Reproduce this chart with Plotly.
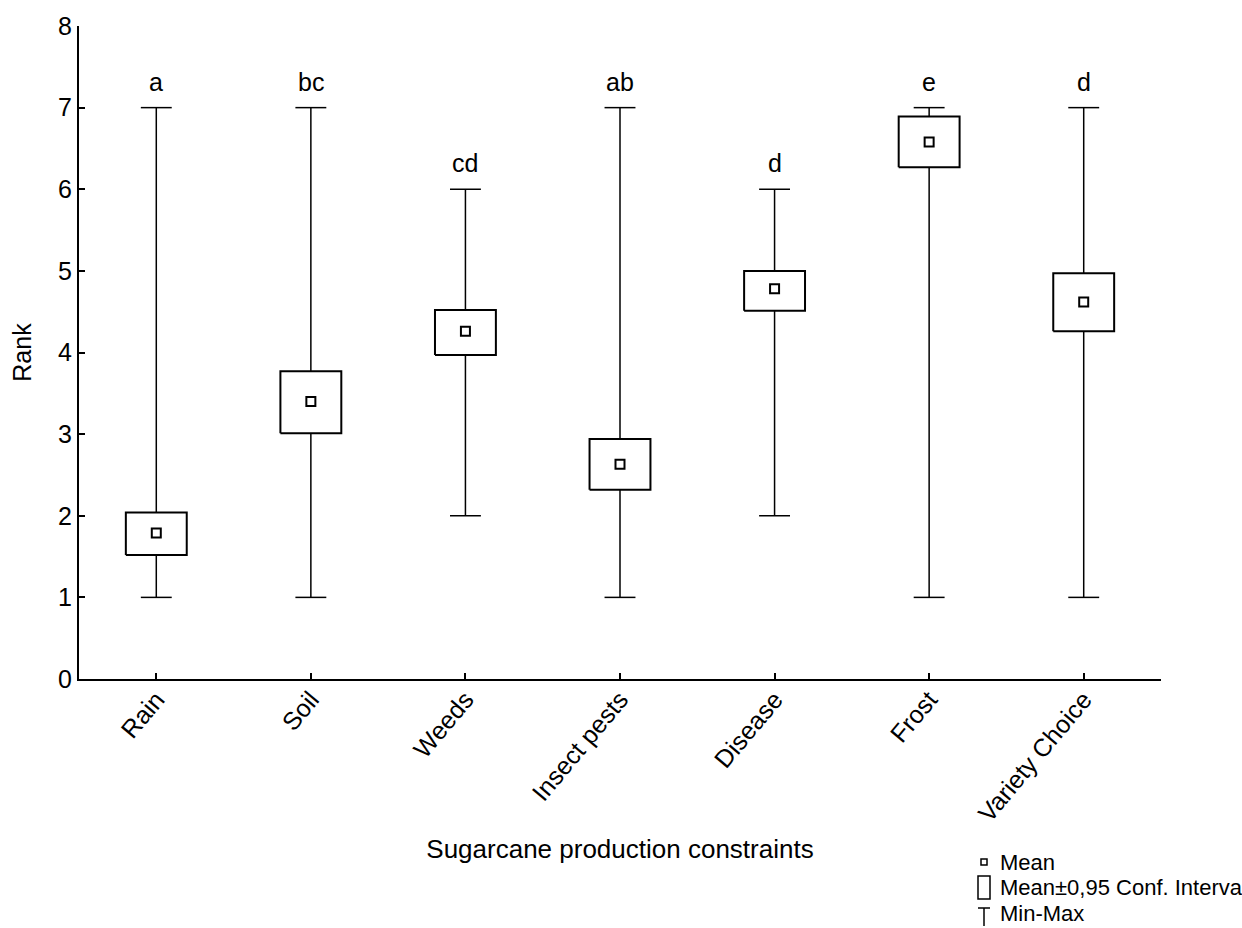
import plotly.graph_objects as go

# Ranking of sugarcane production constraints: min-max range, 95% CI of the mean, mean
categories = ["Rain", "Soil", "Weeds", "Insect pests", "Disease", "Frost", "Variety Choice"]
rank_min = [1, 1, 2, 1, 2, 1, 1]
rank_max = [7, 7, 6, 7, 6, 7, 7]
ci_low = [1.52, 3.01, 3.97, 2.32, 4.51, 6.27, 4.26]
ci_high = [2.04, 3.77, 4.52, 2.94, 5.00, 6.89, 4.97]
means = [1.79, 3.40, 4.26, 2.63, 4.78, 6.58, 4.62]
group_letters = ["a", "bc", "cd", "ab", "d", "e", "d"]

y_ticks = [0, 1, 2, 3, 4, 5, 6, 7, 8]

FONT = "Liberation Sans, Arial, sans-serif"
BOX_HALF = 0.197
CAP_HALF = 0.10

xs = list(range(len(categories)))

fig = go.Figure()

# Min-max whiskers
wx, wy = [], []
for x, lo, hi in zip(xs, rank_min, rank_max):
    wx += [x, x, None]
    wy += [lo, hi, None]
fig.add_trace(go.Scatter(x=wx, y=wy, mode="lines",
                         line=dict(color="black", width=1.5),
                         hoverinfo="skip", showlegend=False))

# Whisker caps
cx, cy = [], []
for x, lo, hi in zip(xs, rank_min, rank_max):
    for v in (lo, hi):
        cx += [x - CAP_HALF, x + CAP_HALF, None]
        cy += [v, v, None]
fig.add_trace(go.Scatter(x=cx, y=cy, mode="lines",
                         line=dict(color="black", width=1.5),
                         hoverinfo="skip", showlegend=False))

# Confidence-interval boxes (white filled so the whisker is hidden inside)
for x, lo, hi in zip(xs, ci_low, ci_high):
    fig.add_trace(go.Scatter(
        x=[x - BOX_HALF, x + BOX_HALF, x + BOX_HALF, x - BOX_HALF, x - BOX_HALF],
        y=[lo, lo, hi, hi, lo],
        mode="lines", fill="toself", fillcolor="white",
        line=dict(color="black", width=2),
        hoverinfo="skip", showlegend=False))

# Means
fig.add_trace(go.Scatter(x=xs, y=means, mode="markers",
                         marker=dict(symbol="square", size=9, color="white",
                                     line=dict(color="black", width=2)),
                         showlegend=False))

# Group letters above each whisker
for x, hi, lab in zip(xs, rank_max, group_letters):
    fig.add_annotation(x=x, y=hi, text=lab, showarrow=False,
                       yanchor="bottom", yshift=10,
                       font=dict(family=FONT, size=25, color="black"))

# Hand-drawn legend in the lower right corner
L, T, W, H = 79, 26, 1082, 653


def px(v):
    return (v - L) / W


def py(v):
    return (T + H - v) / H


sym_l, sym_r = 978, 990
fig.add_shape(type="rect", xref="paper", yref="paper",
              x0=px(sym_l + 3), x1=px(sym_r - 3), y0=py(865), y1=py(859),
              line=dict(color="black", width=1.5), fillcolor="white")
fig.add_shape(type="rect", xref="paper", yref="paper",
              x0=px(sym_l), x1=px(sym_r), y0=py(899), y1=py(876),
              line=dict(color="black", width=1.5), fillcolor="white")
fig.add_shape(type="line", xref="paper", yref="paper",
              x0=px(sym_l), x1=px(sym_r), y0=py(908), y1=py(908),
              line=dict(color="black", width=1.5))
fig.add_shape(type="line", xref="paper", yref="paper",
              x0=px((sym_l + sym_r) / 2), x1=px((sym_l + sym_r) / 2),
              y0=py(908), y1=py(926),
              line=dict(color="black", width=1.5))

legend_items = ["Mean", "Mean±0,95 Conf. Interva", "Min-Max"]
legend_y = [862, 887, 913]
for txt, yy in zip(legend_items, legend_y):
    fig.add_annotation(xref="paper", yref="paper", x=px(998), y=py(yy),
                       text=txt, showarrow=False, xanchor="left", yanchor="middle",
                       font=dict(family=FONT, size=22, color="black"))

fig.update_xaxes(
    range=[-0.5, len(categories) - 0.5],
    tickmode="array", tickvals=xs, ticktext=categories, tickangle=-50,
    ticks="inside", ticklen=6, tickwidth=1.5, tickcolor="black",
    ticklabelstandoff=-6,
    showline=True, linecolor="black", linewidth=2,
    showgrid=False, zeroline=False,
    tickfont=dict(family=FONT, size=25, color="black"),
    title=dict(text="Sugarcane production constraints",
               font=dict(family=FONT, size=26, color="black"), standoff=14),
)
fig.update_yaxes(
    range=[0, 8], tickmode="array", tickvals=y_ticks,
    ticks="inside", ticklen=6, tickwidth=1.5, tickcolor="black",
    showline=True, linecolor="black", linewidth=2,
    showgrid=False, zeroline=False,
    tickfont=dict(family=FONT, size=25, color="black"),
    title=dict(text="Rank", font=dict(family=FONT, size=25, color="black"),
               standoff=19),
)

fig.update_layout(
    width=1242, height=928,
    margin=dict(l=L, r=1242 - L - W, t=T, b=928 - T - H),
    plot_bgcolor="white", paper_bgcolor="white",
    font=dict(family=FONT, color="black"),
    showlegend=False,
)

fig.write_html("out.html")
